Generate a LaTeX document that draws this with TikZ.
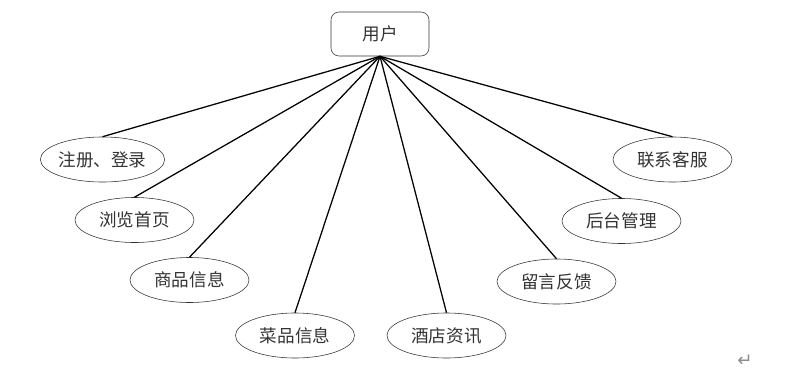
\documentclass[tikz,border=0pt]{standalone}
\usepackage{fontspec}
\usetikzlibrary{shapes.geometric}
\newfontfamily\cjk{Noto Sans CJK SC}
\newfontfamily\symfont{DejaVu Sans}

\begin{document}
\begin{tikzpicture}[x=0.025cm, y=-0.025cm,
  func/.style={ellipse, draw=black!80, minimum width=2.975cm, minimum height=1.125cm,
    inner sep=0pt, font=\cjk\fontsize{12.5}{14}\selectfont, text=black!80},
  link/.style={line width=0.9pt}]
  \useasboundingbox (0,0) rectangle (797,377);
  \node[draw=black!80, rounded corners=0.2cm, minimum width=2.45cm, minimum height=1.1cm,
    font=\cjk\fontsize{12.5}{14}\selectfont, text=black!80] (user) at (380,34) {用户};
  \node[func] (reg) at (102.5,159.5) {注册、登录};
  \node[func] (browse) at (134.5,220) {浏览首页};
  \node[func] (goods) at (189.5,280) {商品信息};
  \node[func] (dish) at (295,335.5) {菜品信息};
  \node[func] (news) at (446.5,335.5) {酒店资讯};
  \node[func] (msg) at (556.5,281.5) {留言反馈};
  \node[func] (admin) at (621.5,221) {后台管理};
  \node[func] (service) at (672.5,159.5) {联系客服};
  \foreach \n in {reg,browse,goods,dish,news,msg,admin,service}
    \draw[link] (user.south) -- (\n.north);
  \node[text=black!45, font=\symfont\fontsize{13}{14}\selectfont] (mark) at (745,361) {↵};
\end{tikzpicture}
\end{document}
